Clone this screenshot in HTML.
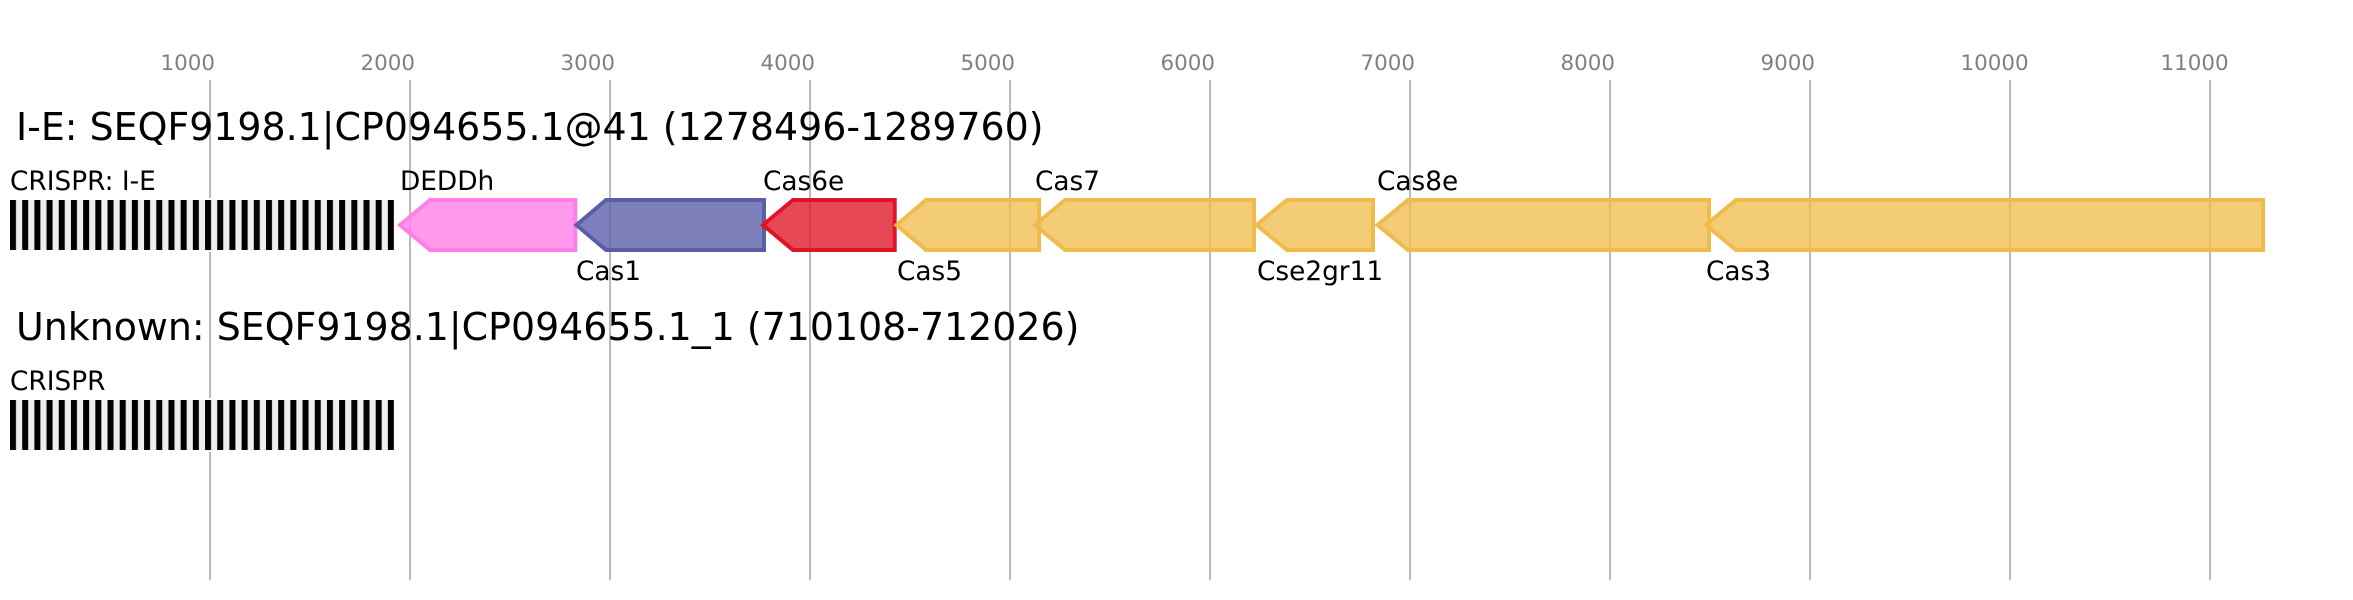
<!DOCTYPE html>
<html>
<head>
<meta charset="utf-8">
<style>
html,body{margin:0;padding:0;background:#fff;width:2353px;height:600px;overflow:hidden}
svg{display:block}
text{font-family:"DejaVu Sans","Liberation Sans",sans-serif}
.t{font-size:21.4px;fill:#808080}
.h{font-size:37.9px;fill:#000}
.l{font-size:26.35px;fill:#000}
</style>
</head>
<body>
<svg xmlns="http://www.w3.org/2000/svg" width="2353" height="600" viewBox="0 0 2353 600">
<rect width="2353" height="600" fill="#fff"/>
<g stroke="#bbb" stroke-width="2">
<line x1="210" y1="80" x2="210" y2="580"/><line x1="410" y1="80" x2="410" y2="580"/><line x1="610" y1="80" x2="610" y2="580"/><line x1="810" y1="80" x2="810" y2="580"/><line x1="1010" y1="80" x2="1010" y2="580"/><line x1="1210" y1="80" x2="1210" y2="580"/><line x1="1410" y1="80" x2="1410" y2="580"/><line x1="1610" y1="80" x2="1610" y2="580"/><line x1="1810" y1="80" x2="1810" y2="580"/><line x1="2010" y1="80" x2="2010" y2="580"/><line x1="2210" y1="80" x2="2210" y2="580"/>
</g>
<g class="t">
<text class="t" x="160.5" y="70">1000</text><text class="t" x="360.5" y="70">2000</text><text class="t" x="560.5" y="70">3000</text><text class="t" x="760.5" y="70">4000</text><text class="t" x="960.5" y="70">5000</text><text class="t" x="1160.5" y="70">6000</text><text class="t" x="1360.5" y="70">7000</text><text class="t" x="1560.5" y="70">8000</text><text class="t" x="1760.5" y="70">9000</text><text class="t" x="1960.5" y="70">10000</text><text class="t" x="2160.5" y="70">11000</text>
</g>
<text class="h" x="16" y="140">I-E: SEQF9198.1|CP094655.1@41 (1278496-1289760)</text>
<text class="h" x="16" y="340">Unknown: SEQF9198.1|CP094655.1_1 (710108-712026)</text>
<text class="l" x="10" y="190">CRISPR: I-E</text>
<text class="l" x="10" y="390">CRISPR</text>
<text class="l" x="400" y="190">DEDDh</text>
<text class="l" x="576" y="280">Cas1</text>
<text class="l" x="763" y="190">Cas6e</text>
<text class="l" x="897" y="280">Cas5</text>
<text class="l" x="1035" y="190">Cas7</text>
<text class="l" x="1257" y="280">Cse2gr11</text>
<text class="l" x="1377" y="190">Cas8e</text>
<text class="l" x="1706" y="280">Cas3</text>
<defs>
<pattern id="p" x="10" y="0" width="12.19" height="10" patternUnits="userSpaceOnUse">
<rect width="12.19" height="10" fill="#eee"/>
<rect width="6" height="10" fill="#000"/>
</pattern>
</defs>
<rect x="8" y="198" width="388" height="54" fill="#fff"/>
<rect x="10" y="200" width="384" height="50" fill="url(#p)"/>
<rect x="8" y="398" width="388" height="54" fill="#fff"/>
<rect x="10" y="400" width="384" height="50" fill="url(#p)"/>
<g stroke-width="4" stroke-miterlimit="10">
<path d="M400 225L430 200H575.3V250H430Z" fill="#ff7fe6" fill-opacity=".8" stroke="#ff7fe6"/>
<path d="M576.5 225L606 200H764V250H606Z" fill="#5a5ea8" fill-opacity=".79" stroke="#5a5ea8"/>
<path d="M763 225L793 200H894.7V250H793Z" fill="#e01425" fill-opacity=".78" stroke="#e01425"/>
<path d="M896.5 225L926 200H1039V250H926Z" fill="#efbc4b" fill-opacity=".77" stroke="#efbc4b"/>
<path d="M1035 225L1065 200H1254V250H1065Z" fill="#efbc4b" fill-opacity=".77" stroke="#efbc4b"/>
<path d="M1256.5 225L1287 200H1373V250H1287Z" fill="#efbc4b" fill-opacity=".77" stroke="#efbc4b"/>
<path d="M1377.5 225L1408 200H1709V250H1408Z" fill="#efbc4b" fill-opacity=".77" stroke="#efbc4b"/>
<path d="M1706 225L1736 200H2263V250H1736Z" fill="#efbc4b" fill-opacity=".77" stroke="#efbc4b"/>
</g>
</svg>
</body>
</html>
